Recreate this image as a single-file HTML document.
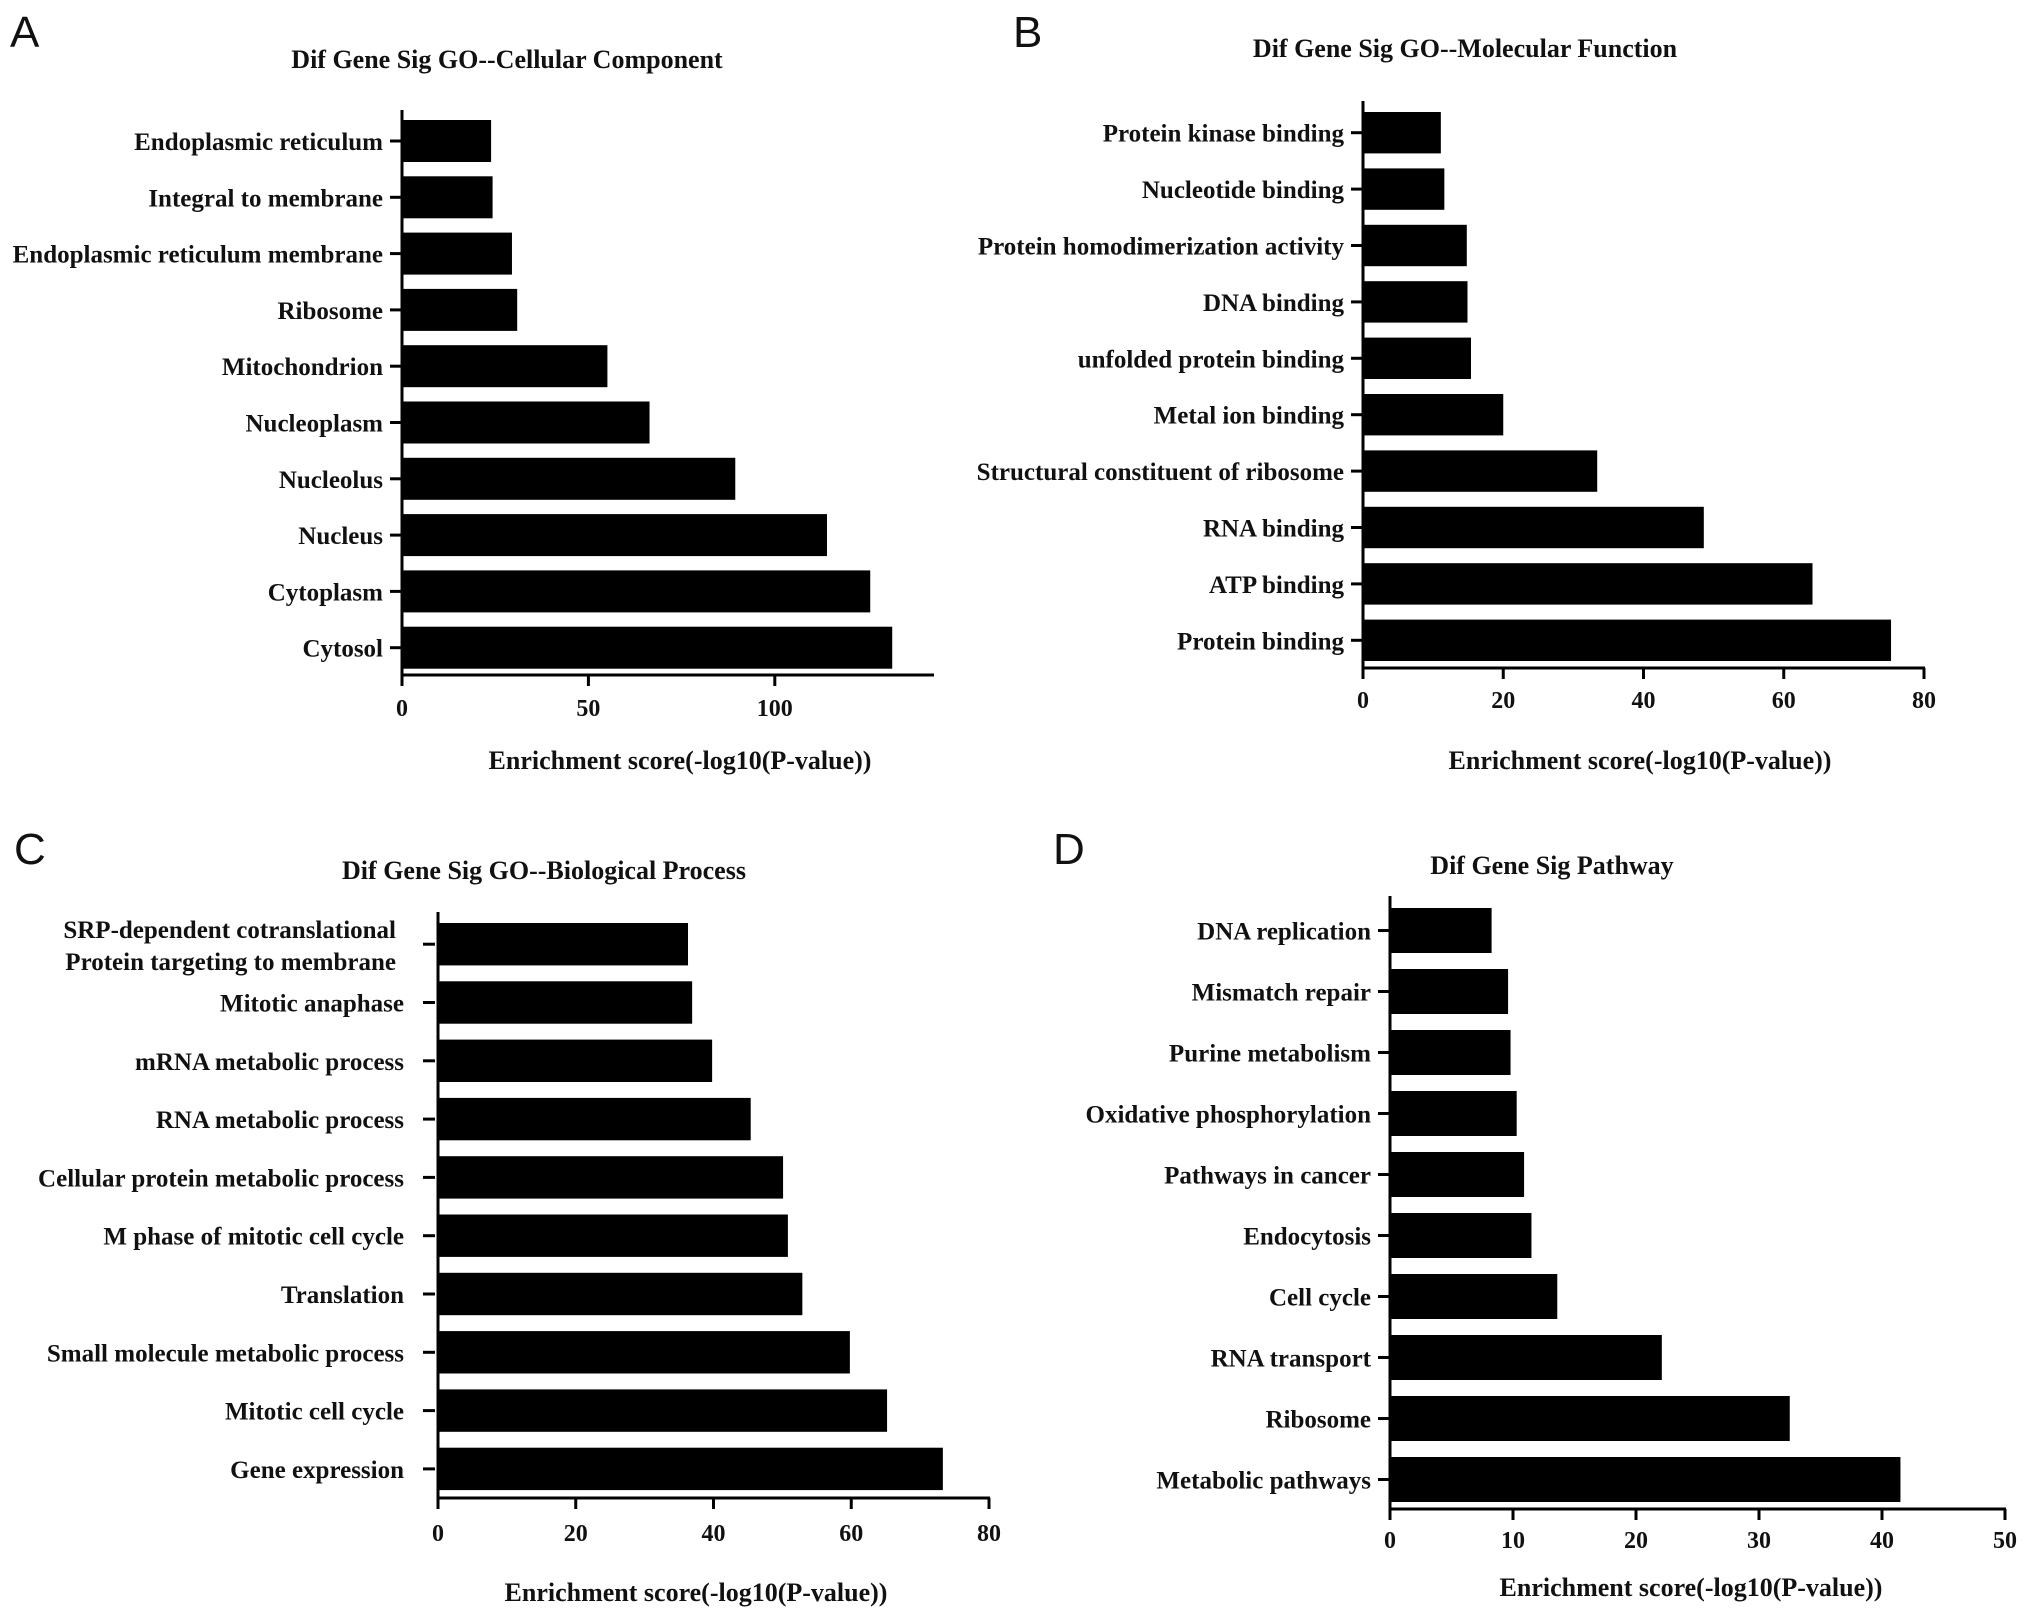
<!DOCTYPE html>
<html><head><meta charset="utf-8"><style>
html,body{margin:0;padding:0;background:#fff}
svg{display:block}
text{font-family:"Liberation Serif",serif;font-weight:bold;fill:#111}
.lt{font-family:"Liberation Sans",sans-serif;font-weight:normal;font-size:44px}
</style></head><body>
<svg id="fig" width="2031" height="1622" viewBox="0 0 2031 1622"></svg>
<script>
const catsA=["Endoplasmic reticulum","Integral to membrane","Endoplasmic reticulum membrane","Ribosome","Mitochondrion","Nucleoplasm","Nucleolus","Nucleus","Cytoplasm","Cytosol"];
const valsA=[23.9,24.3,29.5,30.9,55.1,66.4,89.4,114,125.6,131.5];
const ticksA=[0,50,100];
const catsB=["Protein kinase binding","Nucleotide binding","Protein homodimerization activity","DNA binding","unfolded protein binding","Metal ion binding","Structural constituent of ribosome","RNA binding","ATP binding","Protein binding"];
const valsB=[11.1,11.6,14.8,14.9,15.4,20.0,33.4,48.6,64.1,75.3];
const ticksB=[0,20,40,60,80];
const catsC=["SRP-dependent cotranslational|Protein targeting to membrane","Mitotic anaphase","mRNA metabolic process","RNA metabolic process","Cellular protein metabolic process","M phase of mitotic cell cycle","Translation","Small molecule metabolic process","Mitotic cell cycle","Gene expression"];
const valsC=[36.3,36.9,39.8,45.4,50.1,50.8,52.9,59.8,65.2,73.3];
const ticksC=[0,20,40,60,80];
const catsD=["DNA replication","Mismatch repair","Purine metabolism","Oxidative phosphorylation","Pathways in cancer","Endocytosis","Cell cycle","RNA transport","Ribosome","Metabolic pathways"];
const valsD=[8.26,9.6,9.8,10.3,10.9,11.5,13.6,22.1,32.5,41.5];
const ticksD=[0,10,20,30,40,50];

const NS="http://www.w3.org/2000/svg";
const svg=document.getElementById('fig');
function el(tag,attrs,parent,txt){const e=document.createElementNS(NS,tag);for(const k in attrs)e.setAttribute(k,attrs[k]);if(txt!==undefined)e.textContent=txt;parent.appendChild(e);return e;}

function panel(id,letter,lx,ly,title,tx,ty,cats,vals,ticks,L){
  const g=el('g',{},svg);
  
  
  const lt=el('text',{x:lx,y:ly,class:'lt'},g,letter);
  
  
  const tt=el('text',{x:tx,y:ty,'text-anchor':'middle','font-size':26},g,title);
  
  
  const xs=v=>L.x0+(v-L.dmin)/(L.dmax-L.dmin)*(L.x1d-L.x0);
  const yc=i=>L.top+L.bh/2+i*L.pitch;
  vals.forEach((v,i)=>{
    const r=el('rect',{x:xs(0),y:yc(i)-L.bh/2,width:xs(v)-xs(0),height:L.bh,fill:'#000'},g);
    
    
    const tk=el('line',{x1:L.x0-12-L.tg,x2:L.x0-L.tg,y1:yc(i),y2:yc(i),stroke:'#000','stroke-width':3},g);
    
    
    const parts=cats[i].split('|');
    if(parts.length===1){
      const t=el('text',{x:L.x0-L.lo,y:yc(i)+9,'text-anchor':'end','font-size':25},g,parts[0]);
      
      
    } else {
      const t=el('text',{x:L.x0-42,y:yc(i)-6,'text-anchor':'end','font-size':25},g);
      
      
      el('tspan',{x:L.x0-42},t,parts[0]);
      el('tspan',{x:L.x0-42,dy:32},t,parts[1]);
    }
  });
  const ya=el('line',{x1:L.x0,x2:L.x0,y1:L.axTop,y2:L.axY+1.5,stroke:'#000','stroke-width':3},g);
  
  
  const xa=el('line',{x1:L.x0-1.5,x2:L.xEnd,y1:L.axY,y2:L.axY,stroke:'#000','stroke-width':3},g);
  
  
  ticks.forEach((t,i)=>{
    const ln=el('line',{x1:xs(t),x2:xs(t),y1:L.axY,y2:L.axY+11,stroke:'#000','stroke-width':3},g);
    
    
    const tx2=el('text',{x:xs(t),y:L.tickY,'text-anchor':'middle','font-size':24},g,String(t));
    
    
  });
  const at=el('text',{x:L.atx,y:L.aty,'text-anchor':'middle','font-size':26},g,'Enrichment score(-log10(P-value))');
  
  
}

panel('a','A',10,47,'Dif Gene Sig GO--Cellular Component',507,68,catsA,valsA,ticksA,
 {x0:402,dmin:0,dmax:100,x1d:774.8,xEnd:934,top:120,bh:42,pitch:56.3,axTop:110,axY:675,tickY:716,atx:680,aty:769,lo:19,tg:0});
panel('b','B',1013,47,'Dif Gene Sig GO--Molecular Function',1465,57,catsB,valsB,ticksB,
 {x0:1363,dmin:0,dmax:80,x1d:1924,xEnd:1925,top:112,bh:41.4,pitch:56.4,axTop:101,axY:668,tickY:708,atx:1640,aty:769,lo:19,tg:0});
panel('c','C',14,864,'Dif Gene Sig GO--Biological Process',544,879,catsC,valsC,ticksC,
 {x0:438,dmin:0,dmax:80,x1d:989,xEnd:990,top:923,bh:42.4,pitch:58.3,axTop:912,axY:1498,tickY:1541,atx:696,aty:1601,lo:34,tg:3});
panel('d','D',1053,864,'Dif Gene Sig Pathway',1552,874,catsD,valsD,ticksD,
 {x0:1390,dmin:0,dmax:50,x1d:2005,xEnd:2006,top:908,bh:45,pitch:61,axTop:896,axY:1509,tickY:1548,atx:1691,aty:1596,lo:19,tg:0});
</script>
</body></html>
